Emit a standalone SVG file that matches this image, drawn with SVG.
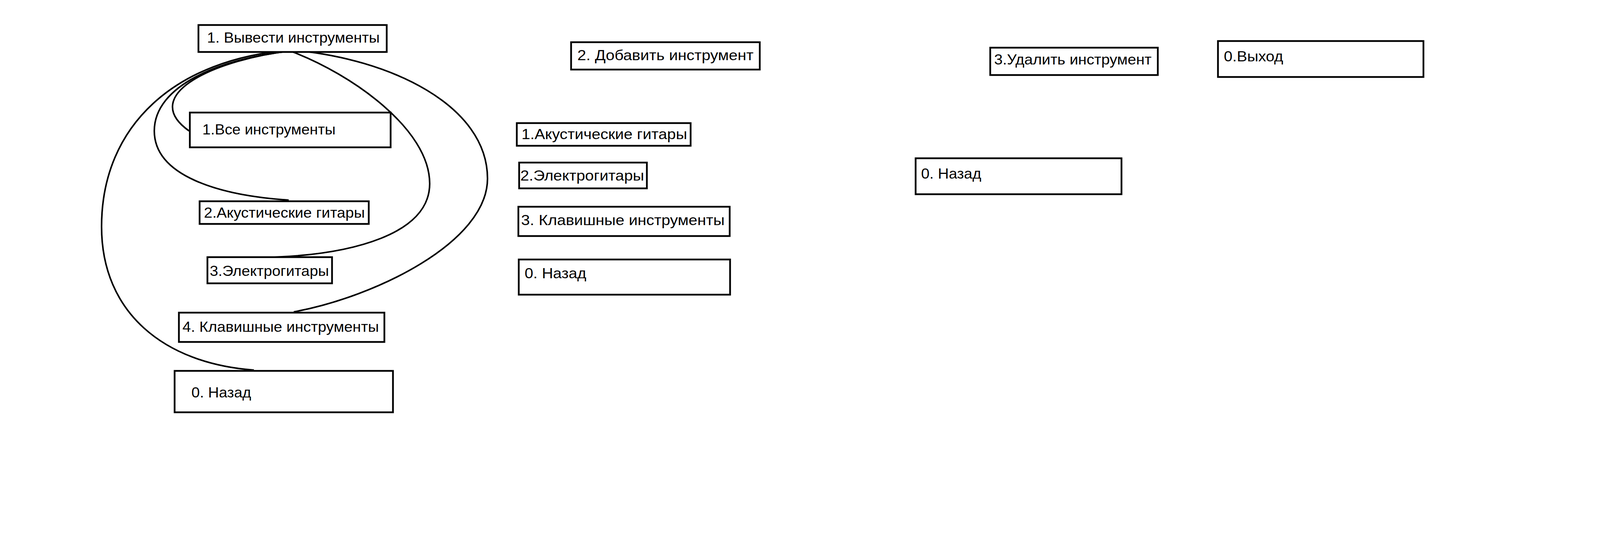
<svg xmlns="http://www.w3.org/2000/svg" width="5200" height="1392" viewBox="0 0 5200 1392">
<style>
.box{fill:#ffffff;stroke:#000000;stroke-width:4.5}
.lbl{font-family:"Liberation Sans",Arial,sans-serif;font-size:37.5px;fill:#000000}
.edge{fill:none;stroke:#000000;stroke-width:4}
</style>
<rect x="0" y="0" width="5200" height="1392" fill="#ffffff"/>
<g id="connectors">
<path class="edge" d="M747,130 C560,150 350,240 484,335"/>
<path class="edge" d="M747,130 C560,150 395,220 395,335 C395,450 560,500 739,512"/>
<path class="edge" d="M747,132 C900,190 1100,330 1100,470 C1100,600 900,650 703,658"/>
<path class="edge" d="M747,128 C1000,150 1248,270 1248,457 C1248,620 960,760 752,798"/>
<path class="edge" d="M747,128 C450,150 260,320 260,580 C260,800 420,930 650,947"/>
</g>
<g id="n-show">
<rect class="box" x="508" y="64" width="482" height="69"/>
<text class="lbl" x="530" y="109" textLength="442" lengthAdjust="spacingAndGlyphs">1. Вывести инструменты</text>
</g>
<g id="n-all">
<rect class="box" x="486" y="288" width="514" height="89"/>
<text class="lbl" x="518" y="344" textLength="341" lengthAdjust="spacingAndGlyphs">1.Все инструменты</text>
</g>
<g id="n-acoustic">
<rect class="box" x="511" y="515" width="433" height="58"/>
<text class="lbl" x="522" y="557" textLength="412" lengthAdjust="spacingAndGlyphs">2.Акустические гитары</text>
</g>
<g id="n-electric">
<rect class="box" x="531" y="658" width="319" height="67"/>
<text class="lbl" x="537" y="706" textLength="305" lengthAdjust="spacingAndGlyphs">3.Электрогитары</text>
</g>
<g id="n-keys">
<rect class="box" x="458" y="800" width="526" height="75"/>
<text class="lbl" x="467" y="849" textLength="503" lengthAdjust="spacingAndGlyphs">4. Клавишные инструменты</text>
</g>
<g id="n-back1">
<rect class="box" x="447" y="949" width="559" height="106"/>
<text class="lbl" x="490" y="1017" textLength="153" lengthAdjust="spacingAndGlyphs">0. Назад</text>
</g>
<g id="n-add">
<rect class="box" x="1462" y="108" width="483" height="70"/>
<text class="lbl" x="1478" y="154" textLength="451" lengthAdjust="spacingAndGlyphs">2. Добавить инструмент</text>
</g>
<g id="n-add-acoustic">
<rect class="box" x="1323" y="315" width="445" height="58"/>
<text class="lbl" x="1335" y="356" textLength="424" lengthAdjust="spacingAndGlyphs">1.Акустические гитары</text>
</g>
<g id="n-add-electric">
<rect class="box" x="1329" y="416" width="327" height="66"/>
<text class="lbl" x="1332" y="462" textLength="317" lengthAdjust="spacingAndGlyphs">2.Электрогитары</text>
</g>
<g id="n-add-keys">
<rect class="box" x="1327" y="529" width="541" height="75"/>
<text class="lbl" x="1334" y="576" textLength="521" lengthAdjust="spacingAndGlyphs">3. Клавишные инструменты</text>
</g>
<g id="n-back2">
<rect class="box" x="1328" y="664" width="541" height="90"/>
<text class="lbl" x="1343" y="712" textLength="158" lengthAdjust="spacingAndGlyphs">0. Назад</text>
</g>
<g id="n-delete">
<rect class="box" x="2535" y="122" width="429" height="70"/>
<text class="lbl" x="2545" y="165" textLength="403" lengthAdjust="spacingAndGlyphs">3.Удалить инструмент</text>
</g>
<g id="n-back3">
<rect class="box" x="2344" y="405" width="527" height="92"/>
<text class="lbl" x="2358" y="457" textLength="154" lengthAdjust="spacingAndGlyphs">0. Назад</text>
</g>
<g id="n-exit">
<rect class="box" x="3118" y="105" width="526" height="92"/>
<text class="lbl" x="3133" y="157" textLength="152" lengthAdjust="spacingAndGlyphs">0.Выход</text>
</g>
</svg>
